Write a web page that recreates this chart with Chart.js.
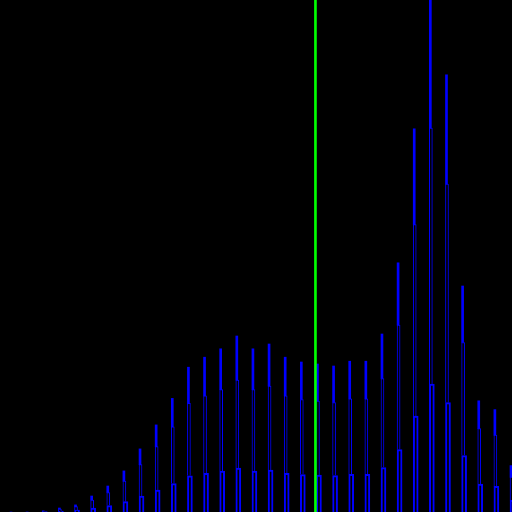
<!DOCTYPE html>
<html>
<head>
<meta charset="utf-8">
<script src="https://cdn.jsdelivr.net/npm/chart.js@4/dist/chart.umd.min.js"></script>
<style>
html,body{margin:0;padding:0;background:#000;}
#c{display:block;}
</style>
</head>
<body>
<canvas id="c" width="512" height="512"></canvas>
<script>
const categories = Array.from({length: 32}, (_, i) => String(i + 1));
const lowerSeg  = [0, 0, 0.3, 1, 1.8, 4, 6.5, 10.3, 15.8, 21.8, 28.4, 36.2, 38.7, 40.8, 44, 40.8, 42, 38.7, 37.5, 37, 36.5, 37.7, 37.7, 44.5, 62.3, 95.8, 128, 109.3, 56.5, 27.8, 25.6, 11.6];
const middleSeg = [0, 0, 0.5, 2, 3.5, 8, 13, 20.5, 31.5, 43.5, 56.8, 72.4, 77.4, 81.6, 88, 81.6, 84, 77.4, 75, 74, 73, 75.4, 75.4, 89, 124.6, 191.6, 256, 218.6, 113, 55.6, 51.2, 23.2];
const upperSeg  = [0, 0, 0.3, 1, 1.8, 4, 6.5, 10.3, 15.8, 21.8, 28.4, 36.2, 38.7, 40.8, 44, 40.8, 42, 38.7, 37.5, 37, 36.5, 37.7, 37.7, 44.5, 62.3, 95.8, 128, 109.3, 56.5, 27.8, 25.6, 11.6];
const markerIndex = 19;
const yMax = 512;
const markerSeries = categories.map((_, i) => i === markerIndex ? yMax : null);

new Chart(document.getElementById('c'), {
  type: 'bar',
  data: {
    labels: categories,
    datasets: [
      { label: 'marker', data: markerSeries, xAxisID: 'x2', backgroundColor: '#00ff00', borderWidth: 0, barThickness: 2, order: 0, clip: false },
      { label: 'lower', data: lowerSeg, backgroundColor: '#000', borderColor: '#0000ff', borderWidth: 2, barThickness: 5, order: 1, clip: false },
      { label: 'middle', data: middleSeg, backgroundColor: '#000', borderColor: '#0000ff', borderWidth: 1, barThickness: 3, order: 1, clip: false },
      { label: 'upper', data: upperSeg, backgroundColor: '#0000ff', borderWidth: 0, barThickness: 2, order: 1, clip: false }
    ]
  },
  options: {
    responsive: false,
    animation: false,
    layout: { padding: { left: 10, right: 2, top: 0, bottom: 0 } },
    plugins: { legend: { display: false }, tooltip: { enabled: false } },
    scales: {
      x: { type: 'category', stacked: true, offset: false, display: false, grid: { display: false } },
      x2: { type: 'category', offset: false, display: false, grid: { display: false } },
      y: { stacked: true, min: 0, max: yMax, display: false, grid: { display: false } }
    }
  }
});
</script>
</body>
</html>
